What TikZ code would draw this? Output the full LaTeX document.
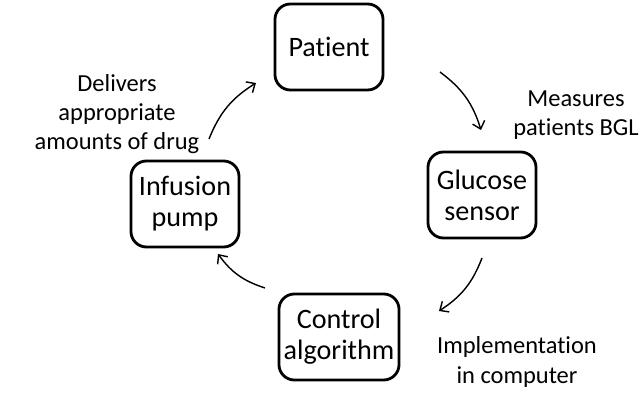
\documentclass[tikz,border=0pt]{standalone}
\usepackage{fontspec}
\setmainfont{Carlito}[Ligatures=NoCommon]
\usetikzlibrary{arrows.meta}

\begin{document}
\begin{tikzpicture}[x=0.025cm,y=-0.025cm,
    box/.style={draw,line width=2pt,rounded corners=11pt,minimum width=2.7cm,minimum height=2.15cm,align=center,font=\fontsize{20}{22}\selectfont},
    lbl/.style={align=center,font=\fontsize{17.4}{20.8}\selectfont},
    flow/.style={line width=1pt,-{Straight Barb[length=5pt,width=9pt]},bend left=18}]

\useasboundingbox (0,0) rectangle (641,393);

% Boxes
\node[box] (pat) at (329,47) {Patient};
\node[box] (glu) at (482,195) {Glucose\\sensor};
\node[box] (ctl) at (339,337) {Control\\algorithm};
\node[box] (inf) at (185,204) {Infusion\\pump};

% Labels
\node[lbl] (deliv) at (117,114) {Delivers\\appropriate\\amounts of drug};
\node[lbl] (meas) at (576,115) {Measures\\patients BGL};
\node[lbl] (impl) at (517,362) {Implementation\\in computer};

% Arrows
\coordinate (a1) at (209,139);
\coordinate (b1) at (256,83);
\coordinate (a2) at (440,72);
\coordinate (b2) at (481,130);
\coordinate (a3) at (482,258);
\coordinate (b3) at (439,311);
\coordinate (a4) at (265,288);
\coordinate (b4) at (218,254);
\draw[flow] (a1) to (b1);
\draw[flow] (a2) to (b2);
\draw[flow] (a3) to (b3);
\draw[flow] (a4) to (b4);

\end{tikzpicture}
\end{document}
